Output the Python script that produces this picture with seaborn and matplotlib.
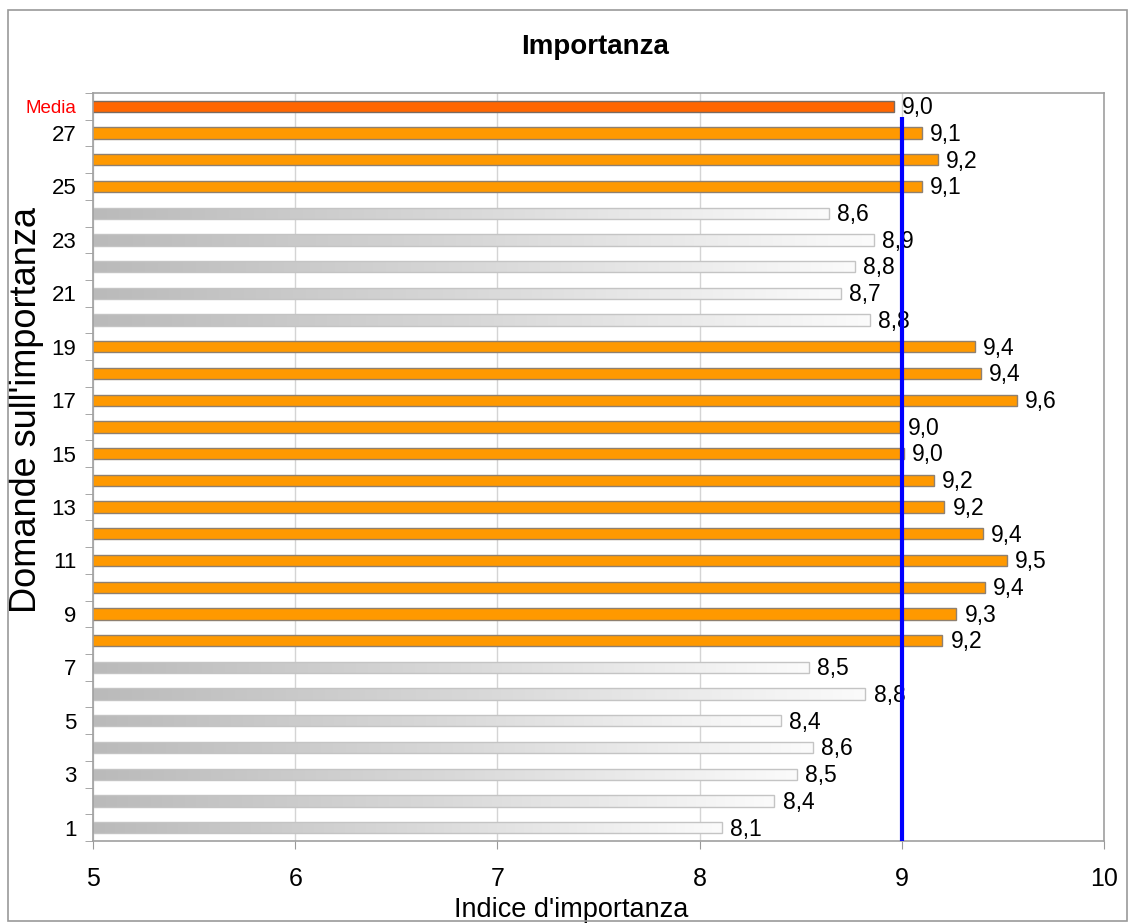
import numpy as np
import pandas as pd
import matplotlib
matplotlib.use("Agg")
import matplotlib.pyplot as plt
from matplotlib.colors import LinearSegmentedColormap
from matplotlib.patches import Rectangle
import seaborn as sns

# data
domande = [str(i) for i in range(1, 28)] + ["Media"]
valori = [8.11, 8.37, 8.48, 8.56, 8.40, 8.82, 8.54, 9.20, 9.27, 9.41,
          9.52, 9.40, 9.21, 9.16, 9.01, 8.99, 9.57, 9.39, 9.36, 8.84,
          8.70, 8.77, 8.86, 8.64, 9.10, 9.18, 9.10, 8.96]
riferimento = 9.0
x_ticks = [5, 6, 7, 8, 9, 10]

media = valori[-1]
gruppi = ["media" if d == "Media" else ("sopra" if v >= media else "sotto")
          for d, v in zip(domande, valori)]
df = pd.DataFrame({"domanda": domande, "indice": valori, "gruppo": gruppi})
ordine = domande[::-1]

sns.set_style("white")
plt.rcParams["font.family"] = ["Liberation Sans", "DejaVu Sans"]
plt.rcParams["text.color"] = "black"
plt.rcParams["axes.labelcolor"] = "black"
plt.rcParams["xtick.color"] = "black"
plt.rcParams["ytick.color"] = "black"

fig = plt.figure(figsize=(11.31, 9.24), dpi=100)
ax = fig.add_axes([0.0822, 0.0898, 0.8940, 0.8096])

palette = {"sopra": "#ff9900", "sotto": "#c8c8c8", "media": "#ff6600"}
edges = {"sopra": "#8f8070", "sotto": "#c4c4c4", "media": "#7a6a60"}
sns.barplot(data=df, y="domanda", x="indice", order=ordine, hue="gruppo",
            palette=palette, saturation=1, dodge=False, width=0.42, legend=False,
            linewidth=1, ax=ax)

ax.set_xlim(5, 10)
ax.set_ylim(27.5, -0.5)

grad = LinearSegmentedColormap.from_list("grigio", ["#bababa", "#d8d8d8", "#fbfbfb"])
gradient = np.linspace(0, 1, 256).reshape(1, -1)
lookup = df.set_index("domanda")["gruppo"]
for p in list(ax.patches):
    w = p.get_width()
    if w <= 0:
        continue
    yc = p.get_y() + p.get_height() / 2
    g = lookup[ordine[int(round(yc))]]
    p.set_edgecolor(edges[g])
    if g == "sotto":
        p.set_facecolor("none")
        im = ax.imshow(gradient, cmap=grad, aspect="auto",
                       extent=[5, w, p.get_y() + p.get_height(), p.get_y()],
                       zorder=p.get_zorder() - 0.1)
        im.set_clip_path(p)
    lab = f"{w:.1f}".replace(".", ",")
    ax.text(w + 0.04, yc + 0.05, lab, va="center", ha="left", fontsize=16.5)

ax.set_xlim(5, 10)
ax.set_ylim(27.5, -0.5)

ax.vlines(riferimento, 0.4, 27.5, color="#0000ff", lw=3, zorder=5)

# axes styling
ax.set_xticks(x_ticks)
ax.set_xticklabels([str(t) for t in x_ticks])
ax.xaxis.grid(True, color="#d4d4d4", lw=1)
ax.set_axisbelow(True)
ax.tick_params(axis="x", length=6, color="#999999", labelcolor="black", labelsize=18,
               pad=13, direction="out", bottom=True)

ax.set_yticks(range(len(ordine)))
ylabels = [d if (d == "Media" or int(d) % 2 == 1) else "" for d in ordine]
ax.set_yticklabels(ylabels)
ax.tick_params(axis="y", which="major", length=0, pad=12, labelsize=16)
for t in ax.get_yticklabels():
    if t.get_text() == "Media":
        t.set_color("#ff0000")
        t.set_fontsize(13.5)
ax.set_yticks(np.arange(-0.5, 28, 1), minor=True)
ax.tick_params(axis="y", which="minor", length=6, color="#999999", direction="out", left=True)

for s in ax.spines.values():
    s.set_color("#a0a0a0")
    s.set_linewidth(1.2)

ax.set_xlabel("Indice d'importanza", fontsize=19.5)
ax.xaxis.set_label_coords(0.473, -0.075)
ax.set_ylabel("Domande sull'importanza", fontsize=26)
ax.yaxis.set_label_coords(-0.048, 0.576)
fig.text(0.526, 0.949, "Importanza", ha="center", va="center",
         fontsize=20, fontweight="bold")

fig.patches.append(Rectangle((0.007, 0.003), 0.9895, 0.986, transform=fig.transFigure,
                             fill=False, edgecolor="#9a9a9a", lw=1.2))

fig.savefig("out.png", dpi=100)
